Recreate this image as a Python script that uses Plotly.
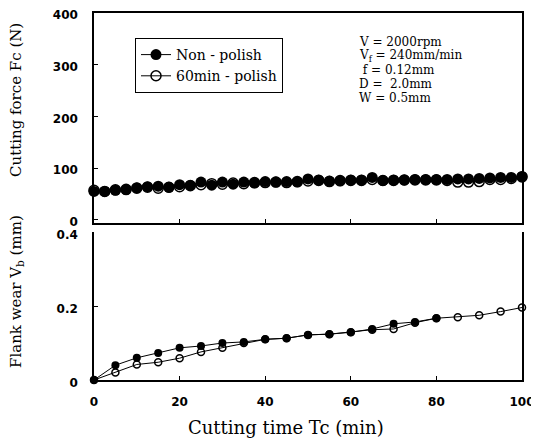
import plotly.graph_objects as go

# ---- data ----
t_force = [i * 2.5 for i in range(41)]
force_non_polish = [55, 55, 57, 58, 62, 64, 65, 63, 68, 67, 73, 67, 73, 69, 73, 71, 74, 73, 74, 73,
                    79, 77, 75, 75, 77, 77, 82, 76, 77, 77, 78, 78, 78, 78, 79, 79, 80, 81, 82, 82, 84]
force_polish_60 = [57, 55, 58, 59, 61, 63, 61, 63, 64, 66, 68, 70, 69, 71, 70, 72, 72, 73, 72, 74,
                   75, 76, 74, 76, 76, 76, 78, 76, 76, 77, 77, 77, 77, 76, 73, 73, 74, 78, 78, 80, 83]

t_wear_non = [0, 5, 10, 15, 20, 25, 30, 35, 40, 45, 50, 55, 60, 65, 70, 75, 80]
wear_non_polish = [0, 0.04, 0.06, 0.073, 0.087, 0.092, 0.10, 0.103, 0.11, 0.113, 0.122, 0.124,
                   0.129, 0.138, 0.152, 0.157, 0.167]
t_wear_pol = [0, 5, 10, 15, 20, 25, 30, 35, 40, 45, 50, 55, 60, 65, 70, 75, 80, 85, 90, 95, 100]
wear_polish_60 = [0, 0.02, 0.042, 0.048, 0.059, 0.076, 0.087, 0.10, 0.11, 0.113, 0.122, 0.124,
                  0.129, 0.136, 0.138, 0.155, 0.167, 0.17, 0.175, 0.185, 0.196]

conditions = ["V = 2000rpm", "V<sub>f</sub> = 240mm/min", " f = 0.12mm", "D =  2.0mm", "W = 0.5mm"]

SERIF = "DejaVu Serif"
TICKFONT = dict(family="DejaVu Sans", size=12, color="black", weight="bold")

# page body has an 8px margin: figure is sized/offset to compensate
W, H = 531, 431
L, R, T, B = 86, 17, 5, 59
PW, PH = W - L - R, H - T - B


def px_x(x):  # window pixel -> paper x
    return (x - 8 - L) / PW


def px_y(y):  # window pixel -> paper y
    return (H - B + 8 - y) / PH


fig = go.Figure()

# top panel: cutting force
fig.add_trace(go.Scatter(x=t_force, y=force_polish_60, mode="lines+markers", name="60min - polish",
                         xaxis="x2", yaxis="y2", cliponaxis=False,
                         line=dict(color="black", width=1),
                         marker=dict(symbol="circle-open", size=10, color="black", line=dict(width=1.5))))
fig.add_trace(go.Scatter(x=t_force, y=force_non_polish, mode="lines+markers", name="Non - polish",
                         xaxis="x2", yaxis="y2", cliponaxis=False,
                         line=dict(color="black", width=1),
                         marker=dict(symbol="circle", size=11, color="black")))

# bottom panel: flank wear
fig.add_trace(go.Scatter(x=t_wear_pol, y=wear_polish_60, mode="lines+markers", showlegend=False,
                         xaxis="x", yaxis="y", cliponaxis=False,
                         line=dict(color="black", width=1),
                         marker=dict(symbol="circle-open", size=7, color="black", line=dict(width=1.5))))
fig.add_trace(go.Scatter(x=t_wear_non, y=wear_non_polish, mode="lines+markers", showlegend=False,
                         xaxis="x", yaxis="y", cliponaxis=False,
                         line=dict(color="black", width=1),
                         marker=dict(symbol="circle", size=8, color="black")))

axis_common = dict(showline=True, linecolor="black", linewidth=1.5, ticks="inside", ticklen=4,
                   tickcolor="black", showgrid=False, zeroline=False, tickfont=TICKFONT,
                   automargin=False, ticklabeloverflow="allow")

annotations = [
    dict(text="Cutting force Fc (N)", x=px_x(16), y=px_y(100), xref="paper", yref="paper",
         textangle=-90, xanchor="center", yanchor="middle",
         showarrow=False, font=dict(family=SERIF, size=15, color="black")),
    dict(text="Flank wear V<sub>b</sub> (mm)", x=px_x(16), y=px_y(292), xref="paper", yref="paper",
         textangle=-90, xanchor="center", yanchor="middle",
         showarrow=False, font=dict(family=SERIF, size=15, color="black")),
    dict(text="Cutting time Tc (min)", x=px_x(286), y=px_y(427), xref="paper", yref="paper",
         xanchor="center", yanchor="middle",
         showarrow=False, font=dict(family=SERIF, size=18, color="black")),
]
line_y = [42, 56, 70, 84, 98]
for txt, py in zip(conditions, line_y):
    annotations.append(dict(text=txt, x=px_x(357), y=px_y(py), xref="paper", yref="paper",
                            xanchor="left", yanchor="middle", showarrow=False,
                            font=dict(family=SERIF, size=12, color="black")))

fig.update_layout(
    width=W, height=H,
    margin=dict(l=L, r=R, t=T, b=B),
    paper_bgcolor="white", plot_bgcolor="white",
    xaxis=dict(domain=[0, 1], range=[0, 100], anchor="y", tickvals=[0, 20, 40, 60, 80, 100],
               ticklabelstandoff=10, **axis_common),
    yaxis=dict(domain=[0, 0.403], range=[0, 0.4], anchor="x", tickvals=[0, 0.2, 0.4],
               ticktext=["0", "0.2", "0.4"], mirror=True, ticklabelstandoff=12,
               ticklabelshift=3, **axis_common),
    xaxis2=dict(domain=[0, 1], range=[0, 100], anchor="y2", matches="x", showticklabels=False,
                tickvals=[20, 40, 60, 80], mirror=True, **axis_common),
    yaxis2=dict(domain=[0.428, 1], range=[-6, 400], anchor="x2", tickvals=[0, 100, 200, 300, 400],
                mirror=True, ticklabelstandoff=12, ticklabelshift=2, **axis_common),
    legend=dict(x=px_x(135), y=px_y(38), xanchor="left", yanchor="top",
                bordercolor="black", borderwidth=1, bgcolor="white",
                font=dict(family=SERIF, size=14, color="black"),
                traceorder="reversed", tracegroupgap=0),
    annotations=annotations,
    showlegend=True,
)

fig.write_html("out.html")
